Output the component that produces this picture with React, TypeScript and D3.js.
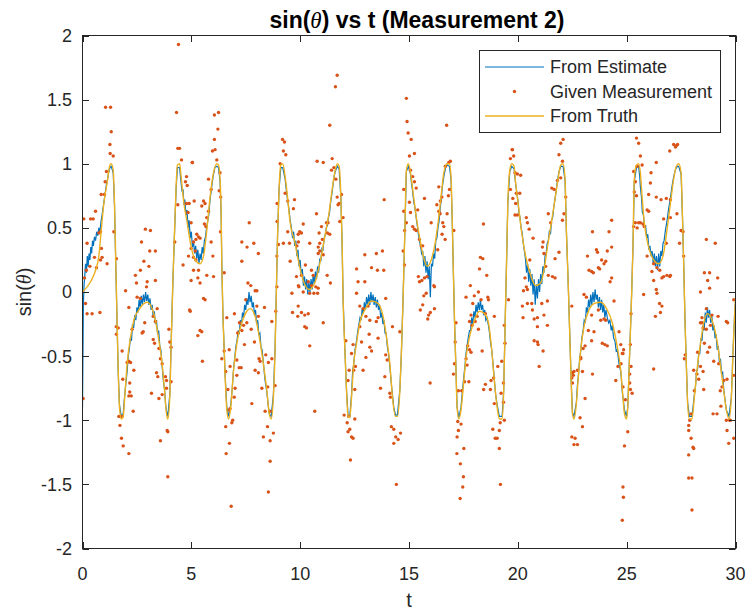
import React from "react";
import * as d3 from "d3";

type P = [number, number];

const xTicks = [0, 5, 10, 15, 20, 25, 30];
const yTicks = [-2, -1.5, -1, -0.5, 0, 0.5, 1, 1.5, 2];
const legendLabels = ["From Estimate", "Given Measurement", "From Truth"];

const truth: P[] = [
  [0,0],[0.37,0.08],[0.6,0.17],[0.75,0.28],[0.86,0.48],[0.98,0.69],[1.13,0.85],[1.26,0.99],[1.32,1.0],[1.41,0.95],[1.47,0.69],[1.53,0.22],[1.59,-0.24],[1.64,-0.61],[1.7,-0.9],[1.78,-0.99],[1.87,-0.97],[1.94,-0.82],[2.05,-0.56],[2.21,-0.35],[2.36,-0.22],[2.59,-0.14],[2.97,-0.08],[3.2,-0.13],[3.35,-0.22],[3.51,-0.38],[3.66,-0.56],[3.77,-0.77],[3.86,-0.95],[3.92,-0.99],[4.01,-0.82],[4.07,-0.43],[4.15,0.07],[4.23,0.48],[4.3,0.82],[4.36,0.99],[4.46,1.0],[4.53,0.9],[4.66,0.69],[4.81,0.54],[4.96,0.38],[5.02,0.33],[5.18,0.25],[5.4,0.22],[5.56,0.28],[5.71,0.48],[5.86,0.74],[6.02,0.93],[6.17,1.0],[6.25,0.99],[6.32,0.88],[6.37,0.61],[6.4,0.22],[6.45,-0.17],[6.51,-0.45],[6.55,-0.64],[6.63,-0.92],[6.71,-0.99],[6.81,-0.9],[6.94,-0.61],[7.09,-0.4],[7.32,-0.24],[7.55,-0.15],[7.7,-0.13],[7.93,-0.19],[8.12,-0.35],[8.31,-0.56],[8.47,-0.77],[8.58,-0.95],[8.67,-0.99],[8.77,-0.82],[8.85,-0.43],[8.9,-0.04],[8.96,0.43],[9.03,0.8],[9.11,0.99],[9.2,1.0],[9.31,0.9],[9.42,0.74],[9.54,0.54],[9.77,0.38],[9.91,0.25],[10.14,0.09],[10.41,0.02],[10.67,0.07],[10.9,0.22],[11.13,0.43],[11.32,0.61],[11.47,0.8],[11.61,0.95],[11.71,1.0],[11.79,0.98],[11.87,0.74],[11.93,0.35],[11.97,-0.04],[12.05,-0.43],[12.13,-0.77],[12.2,-0.97],[12.28,-0.98],[12.36,-0.82],[12.46,-0.56],[12.59,-0.4],[12.74,-0.24],[12.97,-0.14],[13.28,-0.07],[13.58,-0.09],[13.81,-0.19],[13.99,-0.38],[14.12,-0.56],[14.24,-0.82],[14.38,-0.97],[14.47,-0.97],[14.58,-0.77],[14.65,-0.48],[14.73,-0.04],[14.81,0.48],[14.88,0.95],[14.97,1.0],[15.07,0.93],[15.17,0.8],[15.33,0.59],[15.48,0.43],[15.63,0.3],[15.83,0.2],[16.02,0.25],[16.2,0.38],[16.35,0.56],[16.47,0.74],[16.6,0.93],[16.75,1.0],[16.86,1.0],[16.93,0.9],[16.98,0.61],[17.03,0.22],[17.09,-0.22],[17.15,-0.56],[17.21,-0.9],[17.29,-0.99],[17.39,-0.92],[17.52,-0.69],[17.62,-0.51],[17.78,-0.35],[18.01,-0.22],[18.24,-0.15],[18.47,-0.17],[18.65,-0.24],[18.8,-0.45],[18.92,-0.69],[19.05,-0.9],[19.15,-0.99],[19.28,-0.99],[19.35,-0.77],[19.41,-0.3],[19.48,0.22],[19.54,0.69],[19.63,0.95],[19.72,1.0],[19.83,0.98],[19.9,0.85],[20.03,0.67],[20.18,0.46],[20.36,0.28],[20.59,0.13],[20.82,0.05],[21.05,0.07],[21.2,0.17],[21.36,0.35],[21.51,0.51],[21.66,0.67],[21.82,0.85],[21.97,0.99],[22.08,1.0],[22.17,0.88],[22.23,0.48],[22.31,0.09],[22.38,-0.3],[22.45,-0.69],[22.51,-0.95],[22.58,-0.99],[22.69,-0.87],[22.78,-0.66],[22.89,-0.45],[23.04,-0.27],[23.27,-0.14],[23.5,-0.09],[23.81,-0.08],[24.11,-0.14],[24.34,-0.24],[24.57,-0.43],[24.73,-0.61],[24.82,-0.8],[24.9,-0.95],[24.99,-0.99],[25.05,-0.9],[25.12,-0.56],[25.2,-0.17],[25.29,0.35],[25.35,0.88],[25.45,0.99],[25.55,1.0],[25.63,0.93],[25.71,0.74],[25.81,0.54],[26.01,0.35],[26.24,0.25],[26.47,0.22],[26.67,0.28],[26.85,0.48],[27.01,0.69],[27.16,0.88],[27.28,0.98],[27.39,1.0],[27.5,0.93],[27.56,0.61],[27.62,0.22],[27.68,-0.22],[27.74,-0.56],[27.8,-0.87],[27.88,-0.99],[28.0,-0.99],[28.11,-0.82],[28.23,-0.61],[28.39,-0.4],[28.54,-0.24],[28.72,-0.17],[28.92,-0.22],[29.15,-0.38],[29.3,-0.56],[29.46,-0.77],[29.58,-0.92],[29.7,-0.99],[29.81,-0.82],[29.89,-0.45],[29.96,-0.17],[30,-0.05]
];

const estimate: P[] = [
  [0,-0.9],[0.02,-0.5],[0.04,-0.1],[0.07,0.05],[0.1,0.12],[0.14,0.22],[0.18,0.15],[0.22,0.28],[0.26,0.2],[0.3,0.3],[0.34,0.25],[0.38,0.35],[0.42,0.3],[0.46,0.4],[0.5,0.36],[0.55,0.43],[0.6,0.4],[0.65,0.47],[0.7,0.44],[0.75,0.5],[0.8,0.47],[0.85,0.55],[0.9,0.6],[0.95,0.66],[1.0,0.72],[1.05,0.78],[1.1,0.84],[1.15,0.88],[1.2,0.93],[1.26,0.97],[1.32,0.98],
  [1.41,0.93],[1.47,0.68],[1.53,0.2],[1.59,-0.25],[1.64,-0.62],[1.7,-0.88],[1.78,-0.97],[1.87,-0.95],[1.94,-0.8],[2.0,-0.7],[2.05,-0.62],[2.1,-0.5],[2.15,-0.45],[2.2,-0.36],[2.25,-0.38],[2.3,-0.25],[2.35,-0.28],[2.4,-0.18],[2.45,-0.22],[2.5,-0.12],[2.55,-0.16],[2.6,-0.06],[2.65,-0.12],[2.7,-0.03],[2.75,-0.1],[2.8,-0.02],[2.85,-0.08],[2.9,0.0],[2.95,-0.07],[3.0,-0.02],[3.05,-0.1],[3.1,-0.05],[3.15,-0.14],[3.2,-0.1],[3.25,-0.2],[3.3,-0.15],[3.35,-0.25],[3.4,-0.22],[3.45,-0.33],[3.5,-0.3],[3.55,-0.42],[3.6,-0.45],[3.66,-0.58],[3.72,-0.7],[3.77,-0.76],[3.82,-0.88],[3.86,-0.93],[3.92,-0.97],[4.01,-0.8],[4.07,-0.42],[4.15,0.07],[4.23,0.47],[4.3,0.8],[4.36,0.97],[4.46,0.97],[4.53,0.85],
  [4.58,0.78],[4.62,0.8],[4.66,0.68],[4.7,0.72],[4.75,0.6],[4.8,0.64],[4.85,0.5],[4.9,0.56],[4.95,0.42],[5.0,0.47],[5.05,0.35],[5.1,0.4],[5.15,0.3],[5.2,0.36],[5.25,0.26],[5.3,0.33],[5.35,0.22],[5.4,0.3],[5.45,0.25],[5.5,0.35],[5.55,0.3],[5.6,0.4],[5.65,0.43],[5.7,0.5],[5.75,0.55],[5.8,0.6],[5.86,0.72],[5.92,0.8],[6.0,0.9],[6.08,0.97],[6.17,0.98],[6.25,0.97],[6.32,0.86],[6.37,0.6],[6.4,0.22],[6.45,-0.17],[6.51,-0.45],[6.55,-0.64],[6.63,-0.9],[6.71,-0.97],[6.81,-0.88],[6.88,-0.75],[6.94,-0.6],[7.0,-0.5],[7.05,-0.42],[7.1,-0.38],[7.15,-0.3],[7.2,-0.33],[7.25,-0.22],[7.3,-0.26],[7.35,-0.16],[7.4,-0.2],[7.45,-0.1],[7.5,-0.14],[7.55,-0.05],[7.6,-0.1],[7.65,0.0],[7.7,-0.08],[7.75,-0.03],[7.8,-0.12],[7.85,-0.08],[7.9,-0.18],[7.95,-0.14],[8.0,-0.25],[8.05,-0.22],[8.1,-0.33],[8.15,-0.32],[8.2,-0.43],[8.25,-0.45],[8.31,-0.55],[8.38,-0.68],[8.47,-0.78],[8.53,-0.88],[8.58,-0.95],[8.67,-0.97],[8.77,-0.8],[8.85,-0.42],[8.9,-0.04],[8.96,0.43],[9.03,0.8],[9.11,0.97],[9.2,0.97],[9.31,0.88],[9.36,0.8],[9.42,0.72],[9.48,0.65],[9.54,0.56],
  [9.6,0.5],[9.65,0.42],[9.7,0.47],[9.75,0.36],[9.8,0.4],[9.85,0.28],[9.9,0.33],[9.95,0.2],[10.0,0.25],[10.05,0.12],[10.1,0.18],[10.15,0.05],[10.2,0.12],[10.25,0.02],[10.3,0.1],[10.35,-0.02],[10.4,0.08],[10.45,0.0],[10.5,0.1],[10.55,0.02],[10.6,0.14],[10.65,0.06],[10.7,0.16],[10.75,0.1],[10.8,0.2],[10.85,0.15],[10.9,0.26],[10.95,0.24],[11.0,0.34],[11.05,0.33],[11.1,0.42],[11.15,0.44],[11.2,0.5],[11.25,0.52],[11.3,0.58],[11.35,0.62],[11.4,0.7],[11.47,0.78],[11.54,0.88],[11.61,0.94],[11.71,0.98],[11.79,0.96],[11.87,0.74],[11.93,0.35],[11.97,-0.04],[12.05,-0.43],[12.13,-0.77],[12.2,-0.96],[12.28,-0.97],[12.36,-0.8],[12.41,-0.62],[12.46,-0.56],[12.52,-0.45],[12.59,-0.38],[12.65,-0.3],[12.7,-0.25],[12.75,-0.2],[12.8,-0.22],[12.85,-0.13],[12.9,-0.17],[12.95,-0.08],[13.0,-0.14],[13.05,-0.04],[13.1,-0.1],[13.15,-0.02],[13.2,-0.1],[13.25,0.0],[13.3,-0.08],[13.35,-0.02],[13.4,-0.1],[13.45,-0.04],[13.5,-0.12],[13.55,-0.06],[13.6,-0.14],[13.65,-0.1],[13.7,-0.2],[13.75,-0.16],[13.8,-0.25],[13.85,-0.22],[13.9,-0.32],[13.95,-0.32],[14.0,-0.42],[14.06,-0.48],[14.12,-0.58],[14.18,-0.7],[14.24,-0.8],[14.3,-0.9],[14.38,-0.96],[14.47,-0.96],[14.58,-0.76],[14.65,-0.48],[14.73,-0.04],[14.81,0.48],[14.88,0.94],[14.97,0.98],
  [15.07,0.92],[15.12,0.84],[15.17,0.78],[15.22,0.7],[15.27,0.66],[15.33,0.58],[15.38,0.52],[15.43,0.45],[15.48,0.4],[15.53,0.36],[15.58,0.3],[15.63,0.32],[15.68,0.2],[15.73,0.28],[15.78,0.15],[15.83,0.24],[15.88,0.1],[15.93,0.2],[15.98,-0.04],[16.03,0.22],[16.08,0.2],[16.13,0.3],[16.18,0.26],[16.23,0.4],[16.28,0.42],[16.33,0.5],[16.38,0.55],[16.43,0.65],[16.48,0.72],[16.53,0.82],[16.6,0.9],[16.68,0.97],[16.75,0.99],[16.86,0.98],[16.93,0.88],[16.98,0.6],[17.03,0.22],[17.09,-0.22],[17.15,-0.56],[17.21,-0.9],[17.29,-0.98],[17.39,-0.9],[17.45,-0.78],[17.52,-0.66],[17.57,-0.58],[17.62,-0.48],[17.67,-0.42],[17.72,-0.36],[17.78,-0.3],[17.83,-0.3],[17.88,-0.2],[17.93,-0.25],[17.98,-0.15],[18.03,-0.2],[18.08,-0.1],[18.13,-0.16],[18.18,-0.08],[18.23,-0.14],[18.28,-0.06],[18.33,-0.14],[18.38,-0.1],[18.43,-0.18],[18.48,-0.14],[18.53,-0.22],[18.58,-0.2],[18.65,-0.26],[18.7,-0.32],[18.75,-0.4],[18.8,-0.45],[18.86,-0.56],[18.92,-0.68],[18.98,-0.8],[19.05,-0.88],[19.15,-0.97],[19.28,-0.97],[19.35,-0.77],[19.41,-0.3],[19.48,0.22],[19.54,0.69],[19.63,0.94],[19.72,0.98],[19.83,0.96],[19.9,0.84],
  [19.95,0.78],[20.0,0.72],[20.05,0.62],[20.1,0.58],[20.15,0.5],[20.2,0.46],[20.25,0.38],[20.3,0.32],[20.35,0.26],[20.4,0.15],[20.45,0.22],[20.5,0.08],[20.55,0.18],[20.6,0.05],[20.65,0.14],[20.7,-0.02],[20.75,0.1],[20.8,-0.1],[20.85,0.06],[20.9,-0.05],[20.95,0.1],[21.0,0.0],[21.05,0.14],[21.1,0.06],[21.15,0.2],[21.2,0.15],[21.25,0.28],[21.3,0.3],[21.35,0.38],[21.4,0.4],[21.45,0.48],[21.5,0.45],[21.55,0.56],[21.6,0.58],[21.65,0.66],[21.72,0.74],[21.8,0.84],[21.88,0.93],[21.97,0.98],[22.08,0.98],[22.17,0.87],[22.23,0.48],[22.31,0.09],[22.38,-0.3],[22.45,-0.69],[22.51,-0.94],[22.58,-0.97],[22.69,-0.86],[22.74,-0.72],[22.78,-0.66],[22.84,-0.52],[22.89,-0.46],[22.94,-0.36],[23.0,-0.3],[23.05,-0.22],[23.1,-0.24],[23.15,-0.12],[23.2,-0.16],[23.25,-0.06],[23.3,-0.12],[23.35,-0.02],[23.4,-0.1],[23.45,0.0],[23.5,-0.08],[23.55,0.02],[23.6,-0.06],[23.65,-0.02],[23.7,-0.12],[23.75,-0.04],[23.8,-0.14],[23.85,-0.06],[23.9,-0.16],[23.95,-0.1],[24.0,-0.2],[24.05,-0.14],[24.11,-0.2],[24.17,-0.24],[24.23,-0.22],[24.29,-0.3],[24.34,-0.26],[24.4,-0.36],[24.46,-0.38],[24.52,-0.46],[24.57,-0.45],[24.65,-0.56],[24.73,-0.62],[24.8,-0.78],[24.9,-0.92],[24.99,-0.97],[25.05,-0.9],[25.12,-0.56],[25.2,-0.17],[25.29,0.35],[25.35,0.86],[25.45,0.97],[25.55,0.98],[25.6,0.9],
  [25.63,0.82],[25.68,0.74],[25.72,0.62],[25.77,0.6],[25.82,0.5],[25.87,0.52],[25.92,0.42],[25.97,0.45],[26.02,0.33],[26.07,0.36],[26.12,0.28],[26.17,0.32],[26.22,0.22],[26.27,0.3],[26.32,0.2],[26.37,0.28],[26.42,0.17],[26.47,0.3],[26.52,0.2],[26.57,0.32],[26.62,0.28],[26.67,0.38],[26.72,0.4],[26.78,0.48],[26.85,0.55],[26.92,0.64],[27.0,0.72],[27.08,0.82],[27.16,0.9],[27.25,0.96],[27.33,0.98],[27.39,0.98],[27.5,0.92],[27.56,0.61],[27.62,0.22],[27.68,-0.22],[27.74,-0.56],[27.8,-0.86],[27.88,-0.97],[28.0,-0.97],[28.06,-0.88],[28.11,-0.8],[28.16,-0.74],[28.21,-0.62],[28.26,-0.6],[28.31,-0.48],[28.36,-0.48],[28.41,-0.36],[28.46,-0.38],[28.51,-0.26],[28.56,-0.3],[28.61,-0.16],[28.66,-0.24],[28.71,-0.12],[28.76,-0.2],[28.81,-0.14],[28.86,-0.24],[28.91,-0.18],[28.96,-0.3],[29.01,-0.26],[29.06,-0.36],[29.11,-0.33],[29.16,-0.45],[29.21,-0.42],[29.26,-0.55],[29.31,-0.52],[29.36,-0.64],[29.41,-0.62],[29.46,-0.76],[29.52,-0.84],[29.58,-0.92],[29.7,-0.97],[29.81,-0.82],[29.89,-0.45],[29.96,-0.17],[30,-0.08]
];

const measurement: P[] = [
  [4.41,1.93],[1.06,1.44],[1.29,1.44],[1.32,1.25],[1.26,1.15],[1.27,1.08],[1.41,1.06],[4.32,1.40],[4.38,1.12],[4.46,1.12],[4.55,1.03],[5.04,1.01],[1.10,0.94],[1.04,0.86],[0.86,0.76],[1.01,0.76],[0.06,0.57],[0.37,0.57],[0.49,0.57],[0.60,0.63],[4.78,0.90],[4.73,0.86],[4.81,0.83],[4.38,0.68],[4.78,0.69],[4.85,0.62],[0.21,0.38],[0.83,0.47],[0.75,0.46],[1.44,0.47],[0.87,0.34],[0.90,0.27],[0.83,0.25],[0.64,0.19],[0.34,0.20],[0.18,0.17],[0.55,0.27],[1.13,0.22],[1.56,0.26],[0.09,0.11],[0.14,-0.09],[0.21,-0.17],[0.44,-0.17],[0.80,-0.16],[0.03,-0.83],[4.24,0.39],[4.62,0.21],[4.92,-0.14],[4.99,0.09],[2.89,0.49],[3.12,0.48],[2.71,0.39],[3.09,0.32],[3.35,0.32],[2.82,0.24],[3.05,0.20],[2.66,0.17],[2.43,0.13],[2.48,0.07],[2.97,0.08],[2.94,0.04],[3.35,0.09],[1.98,0.01],[2.51,-0.04],[2.66,-0.05],[2.13,-0.12],[3.43,-0.13],[3.25,-0.19],[3.35,-0.23],[2.86,-0.24],[2.74,-0.32],[2.79,-0.31],[1.55,-0.27],[1.64,-0.28],[2.28,-0.29],[1.56,-0.33],[3.97,-0.29],[4.01,-0.39],[4.07,-0.43],[3.51,-0.44],[1.82,-0.46],[3.25,-0.37],[3.31,-0.40],[2.05,-0.55],[2.13,-0.54],[2.21,-0.55],[2.36,-0.61],[1.85,-0.68],[3.58,-0.52],[3.66,-0.56],[3.40,-0.63],[3.46,-0.66],[3.81,-0.66],[3.86,-0.69],[4.07,-0.70],[2.17,-0.71],[3.86,-0.75],[2.17,-0.78],[2.13,-0.81],[3.17,-0.79],[2.24,-0.81],[3.51,-0.83],[3.66,-0.80],[2.33,-0.93],[1.67,-0.97],[1.74,-0.97],[1.82,-0.97],[1.72,-1.04],[1.79,-1.14],[1.87,-1.20],[2.13,-1.26],[3.58,-1.16],[3.89,-1.08],[3.92,-1.09],[3.92,-1.44],
  [6.06,1.38],[6.25,1.40],[6.22,1.27],[6.06,1.19],[5.97,1.10],[6.09,1.11],[6.17,1.03],[5.05,1.01],[9.19,1.19],[9.28,1.17],[9.23,1.10],[9.34,1.07],[9.08,1.00],[6.32,0.93],[5.79,0.88],[6.28,0.79],[5.91,0.80],[6.35,0.74],[5.56,0.71],[5.48,0.67],[5.63,0.69],[5.13,0.71],[4.90,0.69],[5.79,0.63],[9.31,0.77],[8.94,0.69],[9.43,0.71],[9.74,0.72],[9.69,0.65],[5.71,0.58],[4.99,0.54],[5.60,0.53],[5.67,0.51],[7.66,0.54],[8.94,0.55],[6.34,0.47],[9.43,0.47],[5.33,0.43],[5.10,0.39],[5.21,0.41],[5.25,0.45],[5.40,0.42],[5.91,0.39],[7.32,0.39],[7.87,0.38],[7.56,0.35],[9.0,0.37],[9.23,0.38],[9.51,0.38],[9.92,0.39],[9.85,0.36],[4.99,0.34],[5.18,0.32],[4.87,0.28],[5.10,0.27],[5.21,0.25],[8.08,0.30],[5.99,0.28],[7.32,0.24],[8.93,0.28],[9.54,0.24],[5.10,0.17],[5.33,0.17],[5.40,0.07],[5.30,0.11],[6.02,0.12],[5.71,0.13],[6.51,0.15],[8.93,0.04],[7.60,0.07],[7.73,0.05],[7.93,0.01],[8.01,0.01],[9.92,0.05],[9.62,-0.01],[5.56,-0.05],[5.63,-0.06],[7.50,-0.06],[4.95,-0.15],[6.98,-0.17],[6.63,-0.20],[8.01,-0.11],[8.36,-0.12],[8.88,-0.15],[9.65,-0.16],[9.89,-0.19],[8.08,-0.19],[8.70,-0.23],[7.21,-0.24],[7.40,-0.26],[7.55,-0.24],[7.75,-0.29],[5.40,-0.30],[5.48,-0.31],[5.30,-0.34],[7.13,-0.32],[7.32,-0.30],[7.90,-0.39],[7.44,-0.41],[6.74,-0.45],[6.51,-0.46],[7.09,-0.53],[5.51,-0.54],[6.40,-0.52],[8.11,-0.52],[8.42,-0.49],[8.16,-0.54],[8.54,-0.55],[8.70,-0.52],[6.78,-0.58],[7.20,-0.59],[7.29,-0.59],[6.58,-0.62],[7.09,-0.65],[7.93,-0.61],[8.08,-0.63],[8.85,-0.73],[8.24,-0.75],[8.51,-0.74],[6.68,-0.76],[7.01,-0.75],[6.97,-0.82],[6.78,-0.91],[6.74,-0.92],[7.78,-0.87],[8.39,-0.93],[8.62,-0.93],[6.90,-1.00],[6.86,-1.02],[6.58,-1.05],[8.50,-1.05],[8.77,-1.10],[8.31,-1.13],[8.62,-1.16],[6.75,-1.18],[6.60,-1.26],[8.62,-1.32],[8.54,-1.56],[6.83,-1.67],
  [11.70,1.69],[11.62,1.60],[11.36,1.30],[14.88,1.51],[14.91,1.33],[14.96,1.24],[10.78,1.02],[11.06,1.01],[11.47,1.04],[11.44,0.95],[11.55,0.97],[11.64,0.88],[11.70,0.74],[11.74,0.68],[11.79,0.69],[11.90,0.76],[13.86,0.72],[14.76,0.80],[10.75,0.61],[11.82,0.55],[11.97,0.58],[11.21,0.54],[11.28,0.54],[11.36,0.45],[11.25,0.46],[10.98,0.51],[10.87,0.46],[10.14,0.53],[9.98,0.47],[10.06,0.46],[9.91,0.45],[14.76,0.63],[14.88,0.54],[10.44,0.38],[10.83,0.35],[10.90,0.38],[11.02,0.41],[11.06,0.29],[10.90,0.32],[10.83,0.30],[13.78,0.32],[13.50,0.30],[14.73,0.32],[12.97,0.29],[12.59,0.18],[13.28,0.19],[13.84,0.17],[13.55,0.17],[10.24,0.21],[10.52,0.17],[10.60,0.13],[11.24,0.13],[11.39,0.07],[10.06,0.13],[9.83,0.12],[10.37,0.08],[10.52,0.05],[10.72,0.04],[10.83,0.03],[10.63,-0.01],[10.80,-0.01],[9.94,0.04],[10.14,0.00],[10.44,-0.01],[12.66,0.08],[12.97,0.08],[12.59,-0.01],[13.93,-0.05],[9.91,-0.11],[10.06,-0.16],[10.21,-0.18],[10.37,-0.17],[11.06,-0.24],[10.44,-0.42],[10.21,-0.27],[10.29,-0.28],[12.74,-0.11],[12.89,-0.13],[13.12,-0.11],[13.02,-0.19],[13.20,-0.22],[13.50,-0.23],[13.58,-0.20],[12.74,-0.27],[12.82,-0.39],[13.17,-0.33],[13.58,-0.36],[13.02,-0.51],[13.20,-0.43],[13.28,-0.46],[12.43,-0.41],[12.36,-0.48],[14.24,-0.27],[14.58,-0.31],[12.10,-0.38],[12.89,-0.61],[13.93,-0.49],[14.00,-0.53],[13.89,-0.66],[12.25,-0.61],[12.46,-0.61],[12.54,-0.58],[12.20,-0.69],[12.51,-0.76],[13.69,-0.75],[14.12,-0.79],[14.15,-0.82],[10.67,-0.93],[12.02,-0.96],[12.23,-0.97],[12.51,-0.99],[12.16,-1.02],[12.28,-1.07],[12.20,-1.09],[12.36,-1.13],[12.43,-1.14],[12.31,-1.31],[14.19,-1.05],[14.30,-1.07],[14.39,-1.13],[14.50,-1.15],[14.61,-1.10],[14.30,-1.18],[14.42,-1.50],
  [15.10,1.19],[15.02,1.06],[15.25,1.08],[16.73,1.30],[15.07,0.95],[15.17,0.90],[15.25,0.86],[15.33,0.81],[15.02,0.70],[15.07,0.62],[15.40,0.64],[14.80,0.48],[15.17,0.51],[15.25,0.49],[15.33,0.48],[15.48,0.41],[15.56,0.36],[15.63,0.36],[15.71,0.73],[16.02,0.54],[16.37,0.82],[16.28,0.68],[16.37,0.63],[16.43,0.61],[16.51,0.74],[16.44,0.71],[16.55,0.54],[16.60,0.51],[16.52,0.45],[16.66,0.41],[16.32,0.33],[16.75,0.61],[16.81,0.75],[16.86,0.80],[16.67,0.98],[16.83,1.01],[16.90,1.02],[17.06,0.48],[14.79,0.21],[15.43,0.12],[15.48,0.08],[15.59,0.09],[15.71,0.11],[15.83,0.12],[15.68,-0.03],[15.63,-0.10],[15.79,-0.01],[16.14,0.05],[16.17,0.04],[15.98,-0.16],[15.90,-0.18],[15.86,-0.21],[15.52,-0.14],[16.17,-0.13],[15.97,-0.71],[18.42,0.53],[18.28,0.27],[18.39,0.26],[18.24,0.18],[18.57,0.13],[17.82,0.05],[18.00,-0.03],[18.19,0.00],[18.31,-0.06],[17.62,-0.04],[17.93,-0.09],[18.62,-0.04],[18.65,-0.06],[18.92,-0.19],[17.85,-0.18],[18.13,-0.19],[18.04,-0.23],[18.51,-0.17],[17.78,-0.23],[17.90,-0.26],[18.19,-0.29],[17.70,-0.42],[17.78,-0.45],[17.55,-0.70],[17.62,-0.52],[17.67,-0.57],[17.85,-0.47],[18.36,-0.46],[17.75,-0.70],[17.16,-0.24],[17.12,-0.39],[17.09,-0.56],[17.04,-0.64],[18.89,-0.67],[18.77,-0.69],[18.74,-0.76],[18.51,-0.72],[18.43,-0.76],[18.92,-0.87],[19.08,-0.58],[19.26,-0.54],[19.34,-0.71],[19.23,-0.79],[17.27,-0.77],[17.42,-0.77],[17.39,-1.03],[17.24,-1.01],[17.27,-1.08],[17.21,-1.13],[17.20,-1.26],[17.52,-1.22],[17.36,-1.34],[17.50,-1.44],[17.47,-1.52],[17.35,-1.61],[18.85,-1.07],[18.96,-1.14],[19.05,-1.14],[19.15,-1.08],[19.19,-1.02],[19.15,-1.22],[19.20,-1.50],[19.34,-0.86],[19.38,-1.00],[19.41,-0.40],[19.38,-0.26],[19.57,-0.06],[19.74,1.11],[19.66,1.04],[19.81,1.06],[19.66,0.80],[19.77,0.73],[19.87,0.60],
  [22.02,1.26],[22.08,1.19],[21.97,1.16],[21.89,1.07],[22.05,1.02],[19.75,1.11],[19.87,0.93],[19.98,0.92],[20.13,0.91],[21.82,0.87],[21.97,0.89],[21.56,0.81],[21.67,0.80],[19.93,0.77],[20.09,0.77],[22.20,0.74],[22.12,0.61],[22.05,0.56],[19.90,0.69],[19.98,0.60],[21.40,0.61],[21.51,0.54],[20.39,0.58],[20.44,0.54],[20.52,0.49],[20.70,0.42],[21.16,0.39],[21.13,0.35],[21.89,0.31],[21.71,0.26],[20.55,0.25],[21.20,0.30],[21.28,0.20],[21.40,0.13],[21.59,0.12],[21.71,0.11],[20.33,0.11],[20.39,0.04],[20.26,0.01],[20.44,0.02],[20.21,-0.11],[20.44,-0.09],[20.64,-0.09],[20.67,-0.14],[20.24,-0.20],[20.75,-0.21],[20.90,-0.20],[20.90,-0.27],[21.20,-0.18],[21.36,-0.26],[20.75,-0.38],[20.90,-0.39],[20.93,-0.41],[21.16,-0.46],[20.98,-0.58],[21.10,-0.09],[21.36,-0.07],[22.48,-0.11],[22.55,-0.65],[22.58,-0.62],[22.51,-0.63],[22.48,-0.67],[22.51,-0.71],[22.74,-0.61],[22.89,-0.52],[22.97,-0.62],[23.00,-0.44],[23.09,-0.83],[22.86,-0.98],[22.97,-1.05],[22.48,-1.13],[22.63,-1.14],[22.58,-1.19],[22.74,-1.19],[23.43,0.47],[23.20,0.28],[23.61,0.33],[23.66,0.31],[24.19,0.47],[24.31,0.56],[24.31,0.35],[24.11,0.32],[24.04,0.24],[23.27,0.17],[23.39,0.16],[23.47,0.15],[23.70,0.19],[23.76,0.18],[23.85,0.25],[23.96,0.22],[24.31,0.11],[24.24,0.08],[23.04,-0.02],[23.15,-0.04],[23.81,-0.22],[23.96,-0.21],[24.04,-0.22],[23.39,-0.18],[23.70,-0.14],[24.42,-0.07],[23.24,-0.30],[23.39,-0.38],[23.50,-0.31],[23.88,-0.40],[24.00,-0.41],[24.11,-0.42],[23.09,-0.42],[22.89,-0.51],[24.65,-0.31],[24.73,-0.41],[24.80,-0.48],[24.83,-0.74],[23.43,-0.64],[24.50,-0.69],[24.60,-0.58],[24.90,-1.20],[24.85,-1.60],[24.80,-1.78],
  [25.45,1.20],[25.55,1.16],[25.63,1.06],[25.32,0.94],[25.48,0.98],[25.71,0.99],[27.16,1.15],[27.24,1.13],[27.28,1.14],[27.34,1.15],[26.98,1.10],[26.36,1.01],[26.12,0.93],[25.40,0.86],[26.09,0.85],[25.35,0.78],[25.45,0.75],[26.01,0.76],[26.36,0.74],[26.58,0.72],[26.82,0.73],[27.01,0.72],[25.94,0.64],[26.01,0.63],[25.40,0.54],[25.55,0.54],[25.63,0.54],[25.75,0.53],[25.81,0.51],[26.70,0.57],[27.01,0.58],[25.32,0.51],[25.48,0.50],[27.31,0.61],[27.50,0.48],[27.59,0.47],[26.82,0.38],[27.43,0.38],[25.94,0.28],[26.24,0.22],[26.39,0.19],[26.16,0.16],[26.52,0.17],[26.70,0.12],[26.85,0.13],[26.98,0.12],[27.01,0.13],[26.62,0.11],[25.78,-0.02],[26.24,0.09],[26.36,0.02],[26.39,-0.01],[26.51,-0.09],[26.62,-0.11],[26.55,-0.16],[26.32,-0.19],[27.62,0.28],[28.66,0.41],[29.07,0.38],[28.57,0.15],[28.81,0.15],[28.72,0.09],[29.18,0.11],[28.39,0.00],[28.81,0.03],[28.66,-0.13],[28.46,-0.20],[28.92,-0.18],[29.20,-0.19],[28.85,-0.26],[28.46,-0.24],[28.39,-0.24],[28.51,-0.28],[28.66,-0.29],[28.57,-0.40],[28.72,-0.47],[28.81,-0.43],[29.58,-0.23],[29.64,-0.24],[29.92,-0.06],[28.26,-0.47],[28.08,-0.61],[28.39,-0.58],[28.51,-0.62],[28.23,-0.64],[28.31,-0.68],[27.65,-0.52],[27.69,-0.49],[29.00,-0.54],[29.23,-0.56],[29.30,-0.77],[29.38,-0.74],[29.46,-0.69],[29.61,-0.68],[29.92,-0.65],[28.11,-0.77],[28.54,-0.76],[28.97,-0.95],[29.15,-0.95],[29.33,-0.89],[29.58,-1.00],[29.74,-1.00],[27.96,-0.95],[27.90,-1.00],[27.85,-1.04],[27.85,-1.08],[27.96,-1.14],[28.05,-1.21],[28.08,-1.22],[27.85,-1.27],[27.85,-1.45],[28.00,-1.45],[28.00,-1.70],[29.61,-1.08],[29.76,-1.00],[29.69,-1.18],[29.92,-1.14],[24.94,-0.84],[25.05,-1.09],[24.83,-1.52],[24.74,-0.56],[24.86,-0.45],[24.83,-0.48],[25.14,-0.64],[25.14,-0.71],[25.17,-0.76],[25.25,-0.79],[25.20,-0.58],[25.17,-0.41],[25.20,-0.17],[26.24,-0.60]
];

const W = 748;
const H = 611;
const plot = { left: 82.5, right: 735.5, top: 35.5, bottom: 548.5 };
const FONT = "'Liberation Sans', Arial, Helvetica, sans-serif";
const SERIF = "'Liberation Serif', 'DejaVu Serif', serif";
const AXIS = "#262626";
const BLUE = "#0072BD";
const RED = "#D95319";
const YEL = "#EDB120";

export default function App() {
  const x = d3.scaleLinear().domain([0, 30]).range([plot.left, plot.right]);
  const y = d3.scaleLinear().domain([-2, 2]).range([plot.bottom, plot.top]);
  const lin = d3.line<P>().x((d) => x(d[0])).y((d) => y(d[1]));
  const smooth = d3.line<P>().x((d) => x(d[0])).y((d) => y(d[1])).curve(d3.curveMonotoneX);
  const tickLen = 6.5;
  const cx = (plot.left + plot.right) / 2;
  const cy = (plot.top + plot.bottom) / 2;

  return (
    <svg width={W} height={H} style={{ position: "absolute", left: 0, top: 0, background: "#fff" }} fontFamily={FONT}>
      <defs>
        <clipPath id="plotClip">
          <rect x={plot.left} y={plot.top} width={plot.right - plot.left} height={plot.bottom - plot.top} />
        </clipPath>
      </defs>
      <rect x={0} y={0} width={W} height={H} fill="#fff" />
      <g clipPath="url(#plotClip)">
        <path d={lin(estimate) || ""} fill="none" stroke={BLUE} strokeWidth={1.2} />
        {measurement.map((d, i) => (
          <circle key={i} cx={x(d[0])} cy={y(d[1])} r={1.7} fill={RED} />
        ))}
        <path d={smooth(truth) || ""} fill="none" stroke={YEL} strokeWidth={1.4} />
      </g>
      <rect x={plot.left} y={plot.top} width={plot.right - plot.left} height={plot.bottom - plot.top} fill="none" stroke={AXIS} strokeWidth={1} />
      {xTicks.map((t) => (
        <g key={"x" + t}>
          <line x1={Math.round(x(t)) + 0.5} x2={Math.round(x(t)) + 0.5} y1={plot.bottom} y2={plot.bottom - tickLen} stroke={AXIS} />
          <line x1={Math.round(x(t)) + 0.5} x2={Math.round(x(t)) + 0.5} y1={plot.top} y2={plot.top + tickLen} stroke={AXIS} />
          <text x={x(t)} y={580} textAnchor="middle" fontSize={18} fill={AXIS}>{t}</text>
        </g>
      ))}
      {yTicks.map((t) => (
        <g key={"y" + t}>
          <line x1={plot.left} x2={plot.left + tickLen} y1={Math.round(y(t)) + 0.5} y2={Math.round(y(t)) + 0.5} stroke={AXIS} />
          <line x1={plot.right} x2={plot.right - tickLen} y1={Math.round(y(t)) + 0.5} y2={Math.round(y(t)) + 0.5} stroke={AXIS} />
          <text x={72} y={y(t)} dy="0.36em" textAnchor="end" fontSize={18} fill={AXIS}>{t}</text>
        </g>
      ))}
      <text x={417} y={28} textAnchor="middle" fontSize={23} fontWeight="bold" fill="#000">
        sin(<tspan fontFamily={SERIF} fontStyle="italic" fontWeight="normal">θ</tspan>) vs t (Measurement 2)
      </text>
      <text x={cx} y={607} textAnchor="middle" fontSize={20} fill={AXIS}>t</text>
      <text transform={`translate(31, ${cy}) rotate(-90)`} textAnchor="middle" fontSize={20} fill={AXIS}>
        sin(<tspan fontFamily={SERIF} fontStyle="italic">θ</tspan>)
      </text>
      <g>
        <rect x={479.5} y={50.5} width={241} height={82} fill="#fff" stroke={AXIS} strokeWidth={1} />
        {legendLabels.map((lab, i) => {
          const ly = 67 + i * 24.5;
          return (
            <g key={lab}>
              {i === 0 && <line x1={485} x2={544} y1={ly} y2={ly} stroke={BLUE} strokeWidth={1.2} />}
              {i === 1 && <circle cx={514.5} cy={ly} r={1.7} fill={RED} />}
              {i === 2 && <line x1={485} x2={544} y1={ly} y2={ly} stroke={YEL} strokeWidth={1.4} />}
              <text x={550} y={ly} dy="0.36em" fontSize={18} fill={AXIS}>{lab}</text>
            </g>
          );
        })}
      </g>
    </svg>
  );
}
